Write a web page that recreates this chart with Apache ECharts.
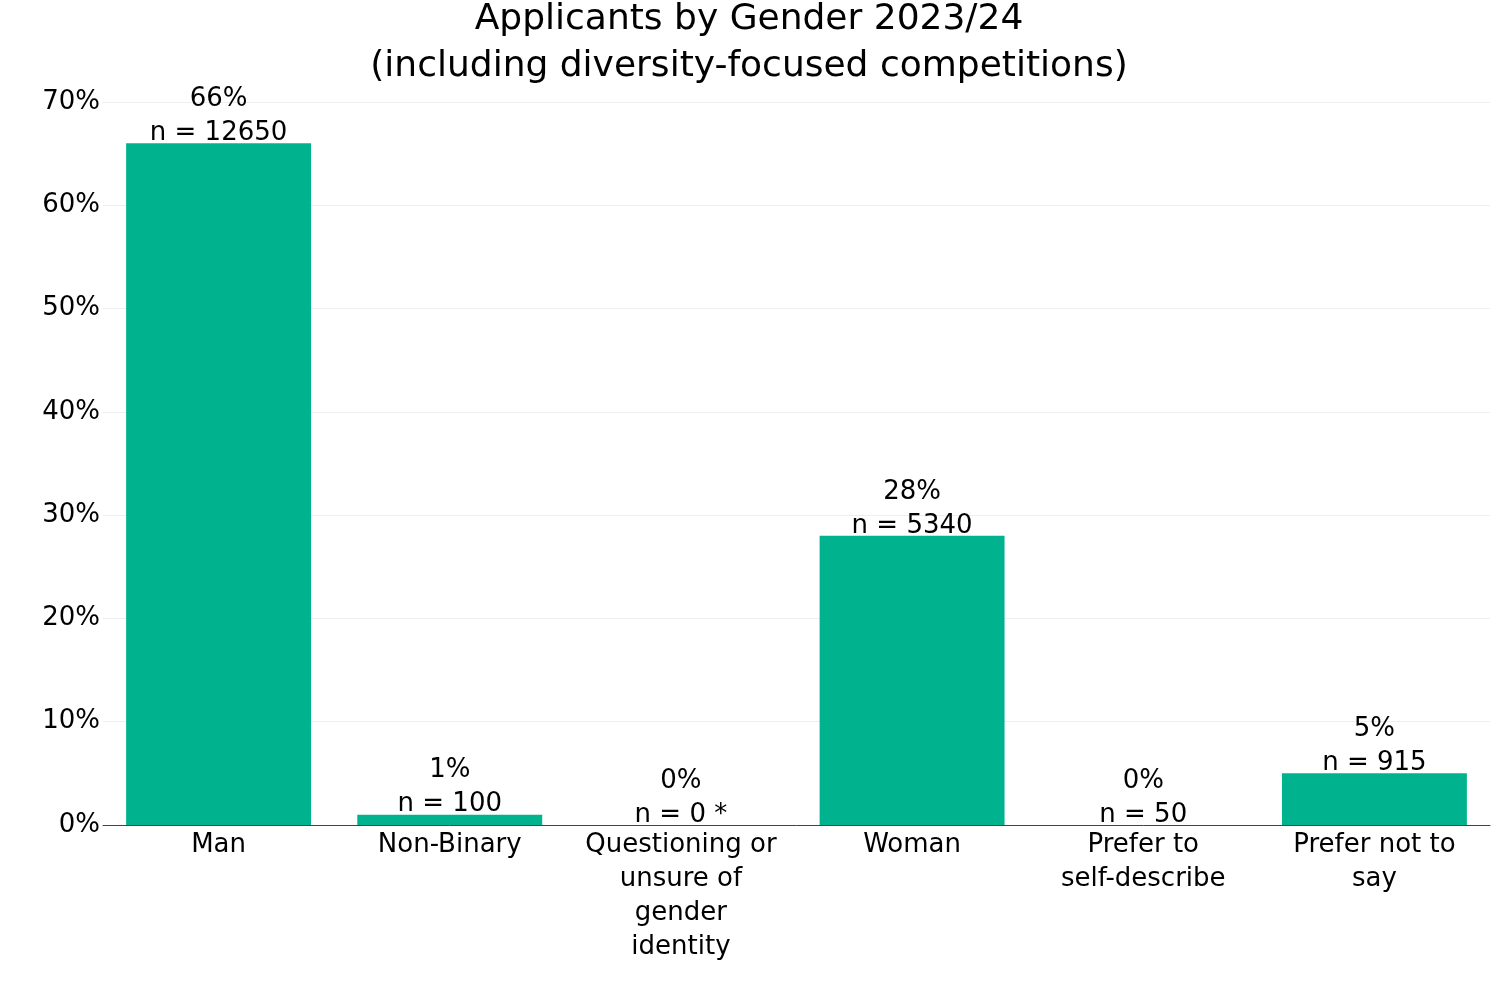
<!DOCTYPE html>
<html>
<head>
<meta charset="utf-8">
<script src="https://cdn.jsdelivr.net/npm/echarts@6/dist/echarts.min.js"></script>
<style>
html,body{margin:0;padding:0;background:#fff;}
#chart{width:1498px;height:998px;}
</style>
</head>
<body>
<div id="chart"></div>
<script>
const categories = ["Man", "Non-Binary", "Questioning or unsure of gender identity", "Woman", "Prefer to self-describe", "Prefer not to say"];
const categoryLabels = ["Man", "Non-Binary", "Questioning or\nunsure of\ngender\nidentity", "Woman", "Prefer to\nself-describe", "Prefer not to\nsay"];
const percentValues = [66, 1, 0, 28, 0, 5];
const countLabels = ["12650", "100", "0 *", "5340", "50", "915"];
const titleLines = ["Applicants by Gender 2023/24", "(including diversity-focused competitions)"];

const FONT = "DejaVu Sans";
const chart = echarts.init(document.getElementById('chart'));
chart.setOption({
  animation: false,
  backgroundColor: '#fff',
  title: {
    text: titleLines.join('\n'),
    left: 'center',
    top: -4,
    padding: 0,
    textStyle: { fontFamily: FONT, fontSize: 36, fontWeight: 'normal', color: '#000', lineHeight: 47 }
  },
  grid: { left: 103, right: 8, top: 102, bottom: 173, containLabel: false },
  xAxis: {
    type: 'category',
    data: categories,
    axisLine: { show: true, lineStyle: { color: '#444', width: 1 } },
    axisTick: { show: false },
    axisLabel: {
      interval: 0,
      margin: 3,
      fontFamily: FONT, fontSize: 26, color: '#000', lineHeight: 34,
      verticalAlign: 'top',
      formatter: (v, i) => categoryLabels[i]
    }
  },
  yAxis: {
    type: 'value',
    min: 0, max: 70, interval: 10,
    axisLine: { show: false },
    axisTick: { show: false },
    splitLine: { lineStyle: { color: '#eeeeee', width: 1 } },
    axisLabel: { margin: 3, padding: [5, 0, 0, 0], fontFamily: FONT, fontSize: 26, color: '#000', formatter: '{value}%' }
  },
  series: [{
    type: 'bar',
    data: percentValues,
    barCategoryGap: '20%',
    itemStyle: { color: '#00b38e' },
    label: {
      show: true,
      position: 'top',
      distance: -7,
      fontFamily: FONT, fontSize: 26, color: '#000', lineHeight: 34,
      formatter: p => percentValues[p.dataIndex] + '%\nn = ' + countLabels[p.dataIndex]
    }
  }]
});
</script>
</body>
</html>
